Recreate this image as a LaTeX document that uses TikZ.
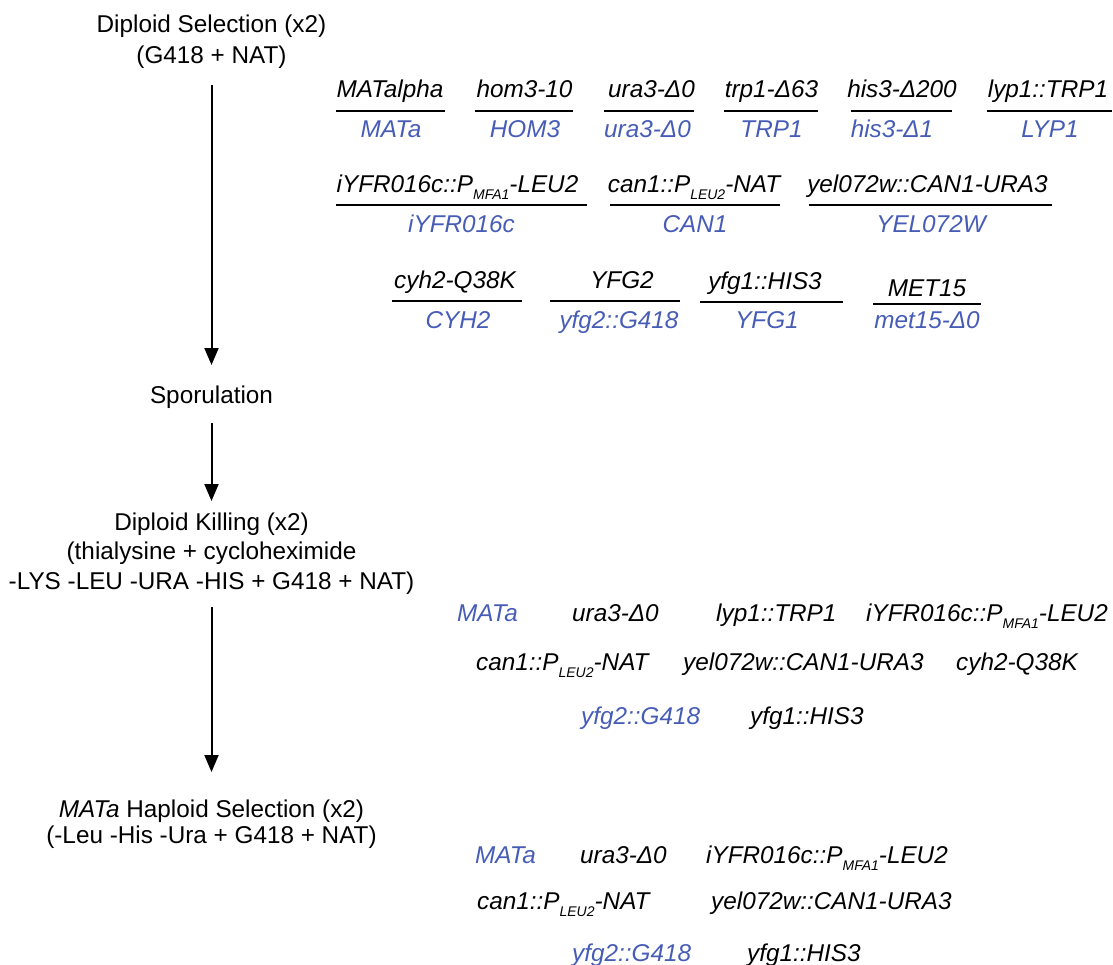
\documentclass[tikz,border=0pt]{standalone}
\usepackage{fontspec}
\setmainfont{Liberation Sans}
\usetikzlibrary{arrows.meta}
\definecolor{gblue}{RGB}{70,92,182}
\newcommand\sbs[1]{\raisebox{-7pt}{\fontsize{14}{14}\selectfont #1}}
\begin{document}
\begin{tikzpicture}[x=1pt,y=-1pt,
  lbl/.style={inner sep=0pt, align=center, font=\fontsize{24.3}{31}\selectfont},
  gt/.style={inner sep=0pt, anchor=base, font=\fontsize{24.3}{28}\selectfont\itshape},
  gb/.style={gt, text=gblue},
  gl/.style={inner sep=0pt, anchor=base west, font=\fontsize{24.3}{28}\selectfont\itshape},
  glb/.style={gl, text=gblue},
  frac/.style={line width=2pt},
  arr/.style={line width=2pt, -{Triangle[length=17pt,width=14pt]}}
]
\useasboundingbox (0,0) rectangle (1113,964);

% left column
\node[lbl] (sel) at (211.5,41.3) {Diploid Selection (x2)\\(G418 + NAT)};
\node[lbl, anchor=base] (spo) at (211.5,403) {Sporulation};
\node[lbl, font=\fontsize{24.3}{29.5}\selectfont] (kill) at (211.5,553.3) {Diploid Killing (x2)\\(thialysine + cycloheximide\\-LYS -LEU -URA -HIS + G418 + NAT)};
\node[lbl, font=\fontsize{24.3}{26}\selectfont] (hap) at (211.5,823.8) {\textit{MATa} Haploid Selection (x2)\\(-Leu -His -Ura + G418 + NAT)};

\draw[arr] (sel.south |- 0,85) -- (spo.north |- 0,365);
\draw[arr] (spo.south |- 0,423) -- (kill.north |- 0,501);
\draw[arr] (kill.south |- 0,607) -- (hap.north |- 0,772);

% row 1
\node[gt] (t11) at (390,97) {MATalpha};   \node[gb] (b11) at (391,137) {MATa};
\draw[frac] (336,111) -- (445,111);
\node[gt] (t12) at (524.5,97) {hom3-10};  \node[gb] (b12) at (525,137) {HOM3};
\draw[frac] (475,111) -- (573,111);
\node[gt] (t13) at (651.5,97) {ura3-Δ0};  \node[gb] (b13) at (647.5,137) {ura3-Δ0};
\draw[frac] (604,111) -- (694,111);
\node[gt] (t14) at (771.5,97) {trp1-Δ63}; \node[gb] (b14) at (771.5,137) {TRP1};
\draw[frac] (724,111) -- (818,111);
\node[gt] (t15) at (902,97) {his3-Δ200};  \node[gb] (b15) at (892,137) {his3-Δ1};
\draw[frac] (851,111) -- (952,111);
\node[gt] (t16) at (1048,97) {lyp1::TRP1}; \node[gb] (b16) at (1050,137) {LYP1};
\draw[frac] (987,111) -- (1112,111);

% row 2
\node[gt] (t21) at (457.5,192) {iYFR016c::P\sbs{MFA1}-LEU2}; \node[gb] (b21) at (461.5,232) {iYFR016c};
\draw[frac] (336,205) -- (587,205);
\node[gt] (t22) at (694,192) {can1::P\sbs{LEU2}-NAT}; \node[gb] (b22) at (695,232) {CAN1};
\draw[frac] (610,205) -- (780,205);
\node[gt] (t23) at (927.5,192) {yel072w::CAN1-URA3}; \node[gb] (b23) at (931,232) {YEL072W};
\draw[frac] (809,205) -- (1052,205);

% row 3
\node[gt] (t31) at (455,288.5) {cyh2-Q38K}; \node[gb] (b31) at (458,328.5) {CYH2};
\draw[frac] (392,301) -- (522,301);
\node[gt] (t32) at (622,288.5) {YFG2}; \node[gb] (b32) at (619,328.5) {yfg2::G418};
\draw[frac] (550,301) -- (680,301);
\node[gt] (t33) at (765,289.5) {yfg1::HIS3}; \node[gb] (b33) at (767,328.5) {YFG1};
\draw[frac] (700,302) -- (843,302);
\node[gt] (t34) at (927,296) {MET15}; \node[gb] (b34) at (927,328.5) {met15-Δ0};
\draw[frac] (873,304) -- (981,304);

% after diploid killing
\node[glb] (k1) at (457,621) {MATa};
\node[gl] (k2) at (572,621) {ura3-Δ0};
\node[gl] (k3) at (716,621) {lyp1::TRP1};
\node[gl] (k4) at (866,621) {iYFR016c::P\sbs{MFA1}-LEU2};
\node[gl] (k5) at (476,670) {can1::P\sbs{LEU2}-NAT};
\node[gl] (k6) at (683,670) {yel072w::CAN1-URA3};
\node[gl] (k7) at (956,670) {cyh2-Q38K};
\node[glb] (k8) at (581,724) {yfg2::G418};
\node[gl] (k9) at (750,724) {yfg1::HIS3};

% after haploid selection
\node[glb] (h1) at (475,863) {MATa};
\node[gl] (h2) at (580,863) {ura3-Δ0};
\node[gl] (h3) at (706,863) {iYFR016c::P\sbs{MFA1}-LEU2};
\node[gl] (h4) at (477,909) {can1::P\sbs{LEU2}-NAT};
\node[gl] (h5) at (711,909) {yel072w::CAN1-URA3};
\node[glb] (h6) at (572,961) {yfg2::G418};
\node[gl] (h7) at (747,961) {yfg1::HIS3};
\end{tikzpicture}
\end{document}
